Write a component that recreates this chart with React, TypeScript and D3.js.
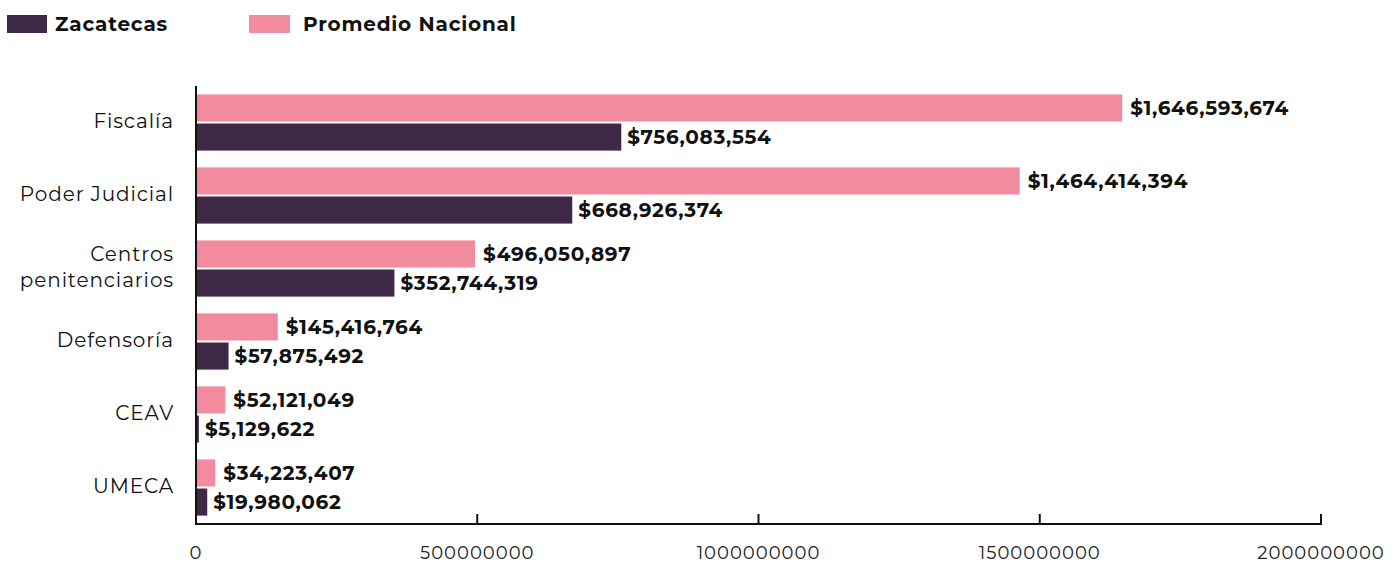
import React from "react";
import * as d3 from "d3";

const categories = ["Fiscalía", "Poder Judicial", "Centros penitenciarios", "Defensoría", "CEAV", "UMECA"];
const categoryLines = [["Fiscalía"], ["Poder Judicial"], ["Centros", "penitenciarios"], ["Defensoría"], ["CEAV"], ["UMECA"]];
const promedioNacional = [1646593674, 1464414394, 496050897, 145416764, 52121049, 34223407];
const zacatecas = [756083554, 668926374, 352744319, 57875492, 5129622, 19980062];
const xTicks = [0, 500000000, 1000000000, 1500000000, 2000000000];
const seriesNames = ["Promedio Nacional", "Zacatecas"];

const W = 1396;
const H = 565;
const PINK = "#F38B9F";
const DARK = "#3F2845";
const FONT = "Montserrat, 'Open Sans', 'Noto Sans', sans-serif";

export default function App() {
  const x = d3.scaleLinear().domain([0, 2000000000]).range([196, 1321]);
  const y = d3.scaleBand<string>().domain(categories).range([86, 524]).paddingInner(0.23).paddingOuter(0.115);
  const inner = d3.scaleBand<string>().domain(seriesNames).range([0, y.bandwidth()]).paddingInner(0.07);
  const fmt = (v: number) => "$" + d3.format(",")(v);

  return (
    <svg width={W} height={H} style={{ position: "absolute", left: 0, top: 0, background: "#fff" }} fontFamily={FONT}>
      {/* Legend */}
      <rect x={7} y={15} width={40} height={18} fill={DARK} />
      <text x={55} y={31} fontSize={20} fontWeight={700} letterSpacing={0.8} fill="#111">Zacatecas</text>
      <rect x={249} y={15} width={41} height={18} fill={PINK} />
      <text x={303} y={31} fontSize={20} fontWeight={700} letterSpacing={0.8} fill="#111">Promedio Nacional</text>

      {/* bars */}
      {categories.map((c, i) => {
        const y0 = y(c)!;
        const yp = y0 + inner("Promedio Nacional")!;
        const yz = y0 + inner("Zacatecas")!;
        const bh = inner.bandwidth();
        return (
          <g key={c}>
            <rect x={x(0)} y={yp} width={x(promedioNacional[i]) - x(0)} height={bh} fill={PINK} />
            <rect x={x(0)} y={yz} width={x(zacatecas[i]) - x(0)} height={bh} fill={DARK} />
            <text x={x(promedioNacional[i]) + 8} y={yp + bh / 2} dy="0.35em" fontSize={20} fontWeight={700} letterSpacing={0.7} fill="#111">
              {fmt(promedioNacional[i])}
            </text>
            <text x={x(zacatecas[i]) + 6} y={yz + bh / 2} dy="0.35em" fontSize={20} fontWeight={700} letterSpacing={0.7} fill="#111">
              {fmt(zacatecas[i])}
            </text>
            {categoryLines[i].map((line, j) => {
              const n = categoryLines[i].length;
              const cy = y0 + y.bandwidth() / 2 - 2 + (j - (n - 1) / 2) * 26;
              return (
                <text key={j} x={174} y={cy} dy="0.35em" textAnchor="end" fontSize={20} letterSpacing={0.9} fill="#111">
                  {line}
                </text>
              );
            })}
          </g>
        );
      })}

      {/* axes */}
      <line x1={196} x2={196} y1={86} y2={525} stroke="#111" strokeWidth={2} />
      <line x1={195} x2={x(2000000000) + 1} y1={524} y2={524} stroke="#111" strokeWidth={2} />
      {xTicks.map((t) => (
        <g key={t}>
          <line x1={x(t)} x2={x(t)} y1={514} y2={524} stroke="#111" strokeWidth={2} />
          <text x={x(t)} y={559} textAnchor="middle" fontSize={18} letterSpacing={1} fill="#222">
            {String(t)}
          </text>
        </g>
      ))}
    </svg>
  );
}
